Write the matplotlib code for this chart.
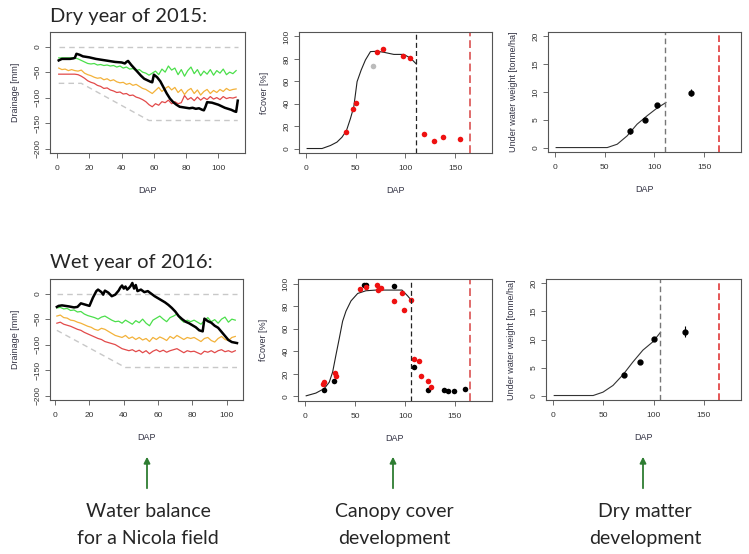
import numpy as np
import matplotlib
matplotlib.use('Agg')
import matplotlib.pyplot as plt

plt.rcParams['font.family'] = ['Liberation Sans', 'DejaVu Sans']

W, H = 749, 554

# ---- 水分平衡 (dry 2015) ----
dry_days = list(range(1, 113, 2))
dry_green = [-22, -22, -22, -22, -22, -22, -24, -27, -30, -33, -34, -33, -36, -35, -37, -36,
             -38, -37, -40, -38, -42, -40, -44, -43, -47, -45, -50, -52, -56, -52, -48, -55,
             -44, -50, -38, -46, -42, -55, -45, -58, -47, -40, -53, -45, -57, -48, -54, -45,
             -56, -47, -52, -44, -55, -50, -53, -47]
dry_orange = [-42, -45, -44, -47, -45, -47, -48, -46, -52, -55, -57, -60, -62, -61, -65, -63,
              -67, -65, -69, -71, -70, -74, -72, -76, -74, -78, -82, -84, -88, -92, -86, -80,
              -88, -82, -78, -85, -80, -90, -84, -94, -86, -82, -92, -85, -95, -88, -84, -92,
              -86, -90, -84, -88, -82, -86, -84, -83]
dry_red = [-54, -54, -54, -54, -54, -54, -55, -58, -62, -67, -70, -72, -76, -78, -82, -81,
           -85, -87, -90, -89, -93, -92, -96, -95, -99, -101, -104, -108, -114, -118, -112, -115,
           -108, -110, -105, -112, -108, -112, -110, -96, -104, -100, -106, -99, -105, -100, -104, -98,
           -103, -100, -104, -98, -102, -100, -101, -99]
dry_black_days = [1, 3, 5, 8, 10, 11, 12, 14, 16, 20, 24, 28, 32, 36, 40, 42, 43, 44, 46, 48,
                  50, 52, 54, 56, 58, 59, 60, 62, 64, 66, 68, 70, 72, 74, 76, 78, 80, 82, 84, 86,
                  88, 90, 91, 92, 93, 96, 100, 104, 108, 110, 111, 112]
dry_black = [-27, -24, -24, -24, -23, -22, -14, -16, -19, -21, -24, -26, -28, -30, -31, -33, -30, -28, -36, -43,
             -50, -57, -63, -66, -69, -70, -55, -60, -68, -80, -92, -102, -109, -114, -118, -119, -120, -121, -120, -122,
             -121, -124, -125, -118, -109, -110, -114, -120, -124, -127, -128, -106]
dry_low_days = [1, 15, 57, 112]
dry_low = [-72, -72, -145, -145]

# ---- 水分平衡 (wet 2016) ----
wet_days = list(range(1, 107, 2))
wet_green = [-28, -27, -30, -29, -33, -32, -36, -35, -40, -43, -45, -47, -50, -46, -44, -48,
             -52, -55, -54, -58, -52, -56, -60, -53, -57, -50, -58, -63, -52, -48, -44, -50,
             -55, -47, -44, -40, -50, -56, -52, -55, -52, -56, -60, -53, -47, -55, -51, -58,
             -50, -46, -56, -50, -52]
wet_orange = [-44, -42, -47, -48, -52, -53, -56, -58, -61, -64, -66, -70, -72, -68, -70, -74,
              -78, -82, -84, -86, -82, -88, -85, -90, -86, -91, -88, -94, -86, -90, -85, -88,
              -92, -84, -88, -82, -86, -90, -86, -88, -86, -90, -94, -88, -86, -92, -95, -88,
              -84, -90, -92, -86, -84]
wet_red = [-58, -56, -60, -62, -64, -67, -70, -72, -76, -79, -82, -85, -88, -90, -94, -96,
           -98, -100, -104, -108, -110, -112, -110, -114, -111, -116, -112, -118, -113, -110, -114, -111,
           -115, -112, -110, -108, -112, -116, -112, -114, -113, -116, -119, -113, -115, -112, -116, -112,
           -110, -114, -112, -115, -112]
wet_black_days = [1, 2, 4, 8, 11, 13, 15, 18, 20, 22, 24, 25, 27, 28, 29, 31, 33, 35, 37, 38,
                  39, 40, 41, 42, 43, 44, 45, 46, 47, 48, 50, 52, 54, 56, 58, 60, 62, 64, 66, 68,
                  70, 72, 74, 76, 78, 80, 82, 84, 86, 87, 89, 91, 93, 95, 97, 99, 101, 103, 106]
wet_black = [-26, -24, -23, -25, -27, -26, -19, -22, -24, -8, 5, 8, 3, -2, 6, 2, -5, -2, 6, 12,
             16, 10, 14, 8, 11, 15, 21, 10, 17, 5, 8, 3, 5, 0, -5, -9, -13, -17, -22, -28,
             -35, -44, -50, -55, -58, -62, -66, -72, -74, -49, -54, -57, -63, -67, -75, -83, -91, -95, -97]
wet_low_days = [1, 41, 106]
wet_low = [-72, -145, -145]

# ---- fCover ----
dry_fc_curve_x = [1, 16, 24.5, 31, 36, 40.6, 44.6, 48, 51.3, 55.4, 59.7, 64.8, 71.5, 78.2, 88.3, 98.3, 105, 111]
dry_fc_curve_y = [0, 0, 2.7, 5.7, 10, 16, 26.7, 37.3, 59.7, 70, 79, 86.5, 86.8, 85.9, 84, 84, 80.8, 75.4]
dry_fc_red_x = [40.3, 47.3, 50.3, 71.5, 77.9, 97.7, 104.4, 118.5, 128.6, 137.6, 155.1]
dry_fc_red_y = [14.7, 35.4, 40.8, 86.5, 88.9, 82.3, 80.8, 13.2, 6.6, 10.2, 8.1]
dry_fc_grey_x = [67.8]
dry_fc_grey_y = [73.3]

wet_fc_curve_x = [1, 10.7, 19.1, 24.1, 27.5, 30.8, 34.2, 37.5, 40.9, 45.9, 52.6, 60.9, 71, 97, 99.4, 102.7, 106.5]
wet_fc_curve_y = [0.6, 3, 7, 12.6, 21.6, 36.6, 51.6, 66.6, 75.6, 84.6, 91.2, 93.6, 94.2, 94.2, 92, 89, 85]
wet_fc_red_x = [17.4, 18.8, 29.5, 31.2, 54.9, 60.9, 71.6, 72.6, 76.3, 89.4, 96.7, 98.8, 106.5,
                109.5, 113.8, 116.1, 123.5, 126.5]
wet_fc_red_y = [11.1, 13.2, 20.7, 17.7, 94.9, 96.7, 98.8, 94.6, 95.8, 84.6, 91.8, 76.2, 85.2,
                33.6, 31.2, 17.7, 13.5, 8.4]
wet_fc_black_x = [19.1, 29.2, 59.3, 60.9, 89.0, 109.5, 122.9, 139.6, 142.9, 149.6, 160.3]
wet_fc_black_y = [5.7, 13.5, 99.1, 98.8, 97.6, 26.1, 5.4, 5.7, 4.8, 4.8, 6.3]

# ---- 乾物重 ----
dry_dm_curve_x = [1, 52.5, 62.5, 72.5, 82.5, 92.5, 102.6, 111.6]
dry_dm_curve_y = [0, 0, 0.6, 2.1, 4.2, 5.7, 7.1, 8.1]
dry_dm_x = [75.5, 90.2, 102.6, 137.3]
dry_dm_y = [3.0, 4.9, 7.6, 9.9]
dry_dm_err = [0.5, 0.3, 0.5, 0.6]

wet_dm_curve_x = [1, 39.8, 49.6, 59.6, 69.5, 79.5, 89.4, 99.4, 107]
wet_dm_curve_y = [0, 0, 0.6, 1.8, 3.7, 6.0, 8.1, 9.6, 11.3]
wet_dm_x = [70.3, 86.5, 100.5, 131.7]
wet_dm_y = [3.6, 6.0, 10.1, 11.4]
wet_dm_err = [0.3, 0.4, 0.3, 1.0]

harvest_dry, harvest_wet = 111, 106.5
end_line = 165.5

fig = plt.figure(figsize=(W / 100, H / 100), dpi=100)
fig.patch.set_facecolor('white')


def px_axes(l, t, r, b):
    return fig.add_axes([l / W, 1 - b / H, (r - l) / W, (b - t) / H])


def r_style(ax, w, h, ylabel):
    for s in ax.spines.values():
        s.set_color('#555555')
        s.set_linewidth(0.8)
    ax.tick_params(direction='out', length=3.5, width=0.6, color='#555555',
                   labelsize=6, labelcolor='#333333', pad=2.5)
    ax.tick_params(axis='x', pad=5)
    for lab in ax.get_yticklabels():
        lab.set_rotation(90)
        lab.set_va('center')
    ax.set_xlabel('DAP', fontsize=6.5, color='#333344')
    ax.xaxis.set_label_coords(0.5, -33 / h)
    ax.set_ylabel(ylabel, fontsize=6.5, color='#333344')
    ax.yaxis.set_label_coords(-30 / w, 0.5)


def drainage(ax, days, green, orange, red, bdays, black, ldays, low, xlim, w, h):
    ax.plot([days[0], bdays[-1]], [0, 0], color='#c8c8c8', lw=1, dashes=(4, 3))
    ax.plot(ldays, low, color='#c8c8c8', lw=1, dashes=(4, 3))
    ax.plot(days, green, color='#4bdf4b', lw=0.9)
    ax.plot(days, orange, color='#f3b23a', lw=0.9)
    ax.plot(days, red, color='#e24a4a', lw=0.9)
    ax.plot(bdays, black, color='black', lw=1.8)
    ax.set_xlim(*xlim)
    ax.set_ylim(-208.8, 28.8)
    ax.set_xticks([0, 20, 40, 60, 80, 100])
    ax.set_yticks([0, -50, -100, -150, -200])
    r_style(ax, w, h, 'Drainage [mm]')


def fcover(ax, cx, cy, harvest, pts, w, h):
    ax.plot(cx, cy, color='#222222', lw=0.8)
    for px_, py_, col in pts:
        ax.plot(px_, py_, 'o', color=col, ms=4, mec='none')
    ax.axvline(harvest, color='#222222', lw=0.9, dashes=(4, 2.5))
    ax.axvline(end_line, color='#e06a6a', lw=1.4, dashes=(4, 2))
    ax.set_xlim(-7.2, 187.2)
    ax.set_ylim(-4, 104)
    ax.set_xticks([0, 50, 100, 150])
    ax.set_yticks([0, 20, 40, 60, 80, 100])
    r_style(ax, w, h, 'fCover [%]')


def drymatter(ax, cx, cy, harvest, x, y, err, w, h):
    ax.plot(cx, cy, color='#333333', lw=0.8)
    ax.errorbar(x, y, yerr=err, fmt='o', color='black', ms=3.5, elinewidth=0.8, capsize=0)
    ax.axvline(harvest, color='#777777', lw=1.0, dashes=(4, 2.5))
    ax.axvline(end_line, color='#e03a3a', lw=1.2, dashes=(4, 2))
    ax.set_xlim(-7.2, 187.2)
    ax.set_ylim(-0.8, 20.8)
    ax.set_xticks([0, 50, 100, 150])
    ax.set_yticks([0, 5, 10, 15, 20])
    r_style(ax, w, h, 'Under water weight [tonne/ha]')


ax1 = px_axes(50, 32, 245, 153)
drainage(ax1, dry_days, dry_green, dry_orange, dry_red, dry_black_days, dry_black,
         dry_low_days, dry_low, (-4.4, 116.5), 195, 121)
ax2 = px_axes(299, 32, 492, 153)
fcover(ax2, dry_fc_curve_x, dry_fc_curve_y, harvest_dry,
       [(dry_fc_grey_x, dry_fc_grey_y, '#bbbbbb'), (dry_fc_red_x, dry_fc_red_y, '#ee1111')], 193, 121)
ax3 = px_axes(548, 32, 741, 152)
drymatter(ax3, dry_dm_curve_x, dry_dm_curve_y, harvest_dry, dry_dm_x, dry_dm_y, dry_dm_err, 193, 120)

ax4 = px_axes(50, 279, 243, 400)
drainage(ax4, wet_days, wet_green, wet_orange, wet_red, wet_black_days, wet_black,
         wet_low_days, wet_low, (-3.0, 109.5), 193, 121)
ax5 = px_axes(298, 279, 492, 401)
fcover(ax5, wet_fc_curve_x, wet_fc_curve_y, harvest_wet,
       [(wet_fc_black_x, wet_fc_black_y, 'black'), (wet_fc_red_x, wet_fc_red_y, '#ee1111')], 194, 122)
ax6 = px_axes(546, 279, 741, 400)
drymatter(ax6, wet_dm_curve_x, wet_dm_curve_y, harvest_wet, wet_dm_x, wet_dm_y, wet_dm_err, 195, 121)

# 標題、箭頭與說明文字
ov = fig.add_axes([0, 0, 1, 1], zorder=-1)
ov.set_xlim(0, W)
ov.set_ylim(H, 0)
ov.axis('off')

title_font = dict(family=['Lato', 'DejaVu Sans'], weight='normal', color='#262626')
ov.text(50, 22, 'Dry year of 2015:', fontsize=14.5, ha='left', va='baseline', **title_font)
ov.text(50, 268, 'Wet year of 2016:', fontsize=14.5, ha='left', va='baseline', **title_font)

for xc in [147, 393, 643]:
    ov.annotate('', xy=(xc, 454), xytext=(xc, 491),
                arrowprops=dict(arrowstyle='-|>', color='#2e7d32', lw=1.3, mutation_scale=9))

captions = [(148, 'Water balance', 'for a Nicola field'),
            (394, 'Canopy cover', 'development'),
            (645, 'Dry matter', 'development')]
for xc, l1, l2 in captions:
    ov.text(xc, 517, l1, fontsize=14, ha='center', va='baseline', **title_font)
    ov.text(xc, 544, l2, fontsize=14, ha='center', va='baseline', **title_font)

fig.savefig('out.png', dpi=100)
